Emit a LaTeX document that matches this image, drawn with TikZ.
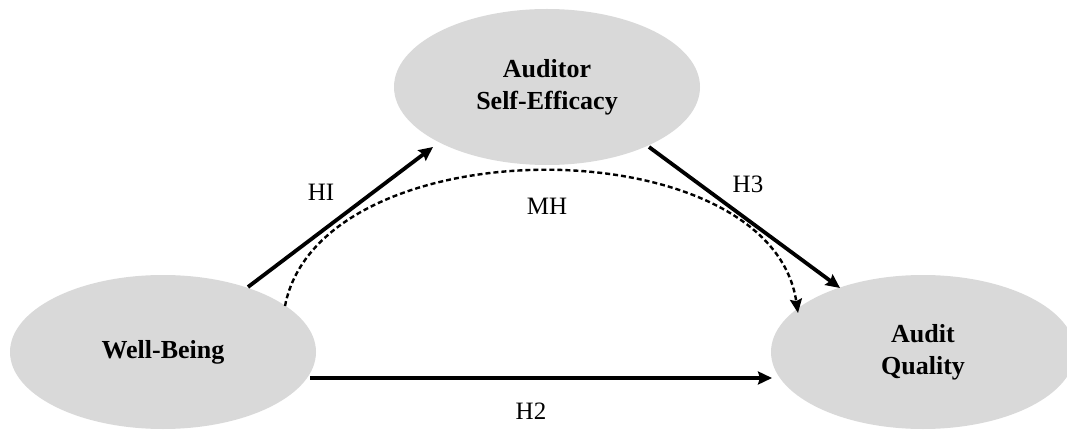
\documentclass[tikz,border=0pt]{standalone}
\usepackage{fontspec}
\setmainfont{Liberation Serif}
\usetikzlibrary{shapes.geometric,arrows.meta,calc}
\definecolor{ellgray}{HTML}{D9D9D9}
\begin{document}
\begin{tikzpicture}[x=1pt,y=-1pt,
  ell/.style={ellipse,fill=ellgray,draw=none,inner sep=0pt,align=center,
    font=\fontsize{26}{32}\selectfont\bfseries},
  lbl/.style={font=\fontsize{25}{28}\selectfont,inner sep=0pt},
  conn/.style={line width=3.8pt,-{Stealth[length=14pt,width=13pt,inset=2pt]}},
  dconn/.style={line width=2.4pt,dash pattern=on 5pt off 3pt,
    -{Stealth[length=14pt,width=12pt,inset=2pt]}}]
\useasboundingbox (0,0) rectangle (1067,430);
\node[ell,minimum width=306pt,minimum height=156pt] (ase) at (547,87) {Auditor\\Self-Efficacy};
\node[ell,minimum width=306pt,minimum height=154pt] (wb) at (163,352) {Well-Being};
\node[ell,minimum width=304pt,minimum height=154pt] (aq) at (923,352) {Audit\\Quality};
\draw[conn] ($(wb)+(85,-65)$) -- ($(ase)+(-114,60)$);
\draw[conn] ($(ase)+(102,60)$) -- ($(aq)+(-83,-64)$);
\draw[conn] ($(wb)+(147,26)$) -- ($(aq)+(-151,26)$);
\draw[dconn] ($(wb)+(122,-46)$) .. controls (320,125) and (770,125) .. ($(aq)+(-125,-39)$);
\node[lbl] (h1) at (321,192) {HI};
\node[lbl] (mh) at (547,206) {MH};
\node[lbl] (h3) at (748,184) {H3};
\node[lbl] (h2) at (531,411) {H2};
\end{tikzpicture}
\end{document}
